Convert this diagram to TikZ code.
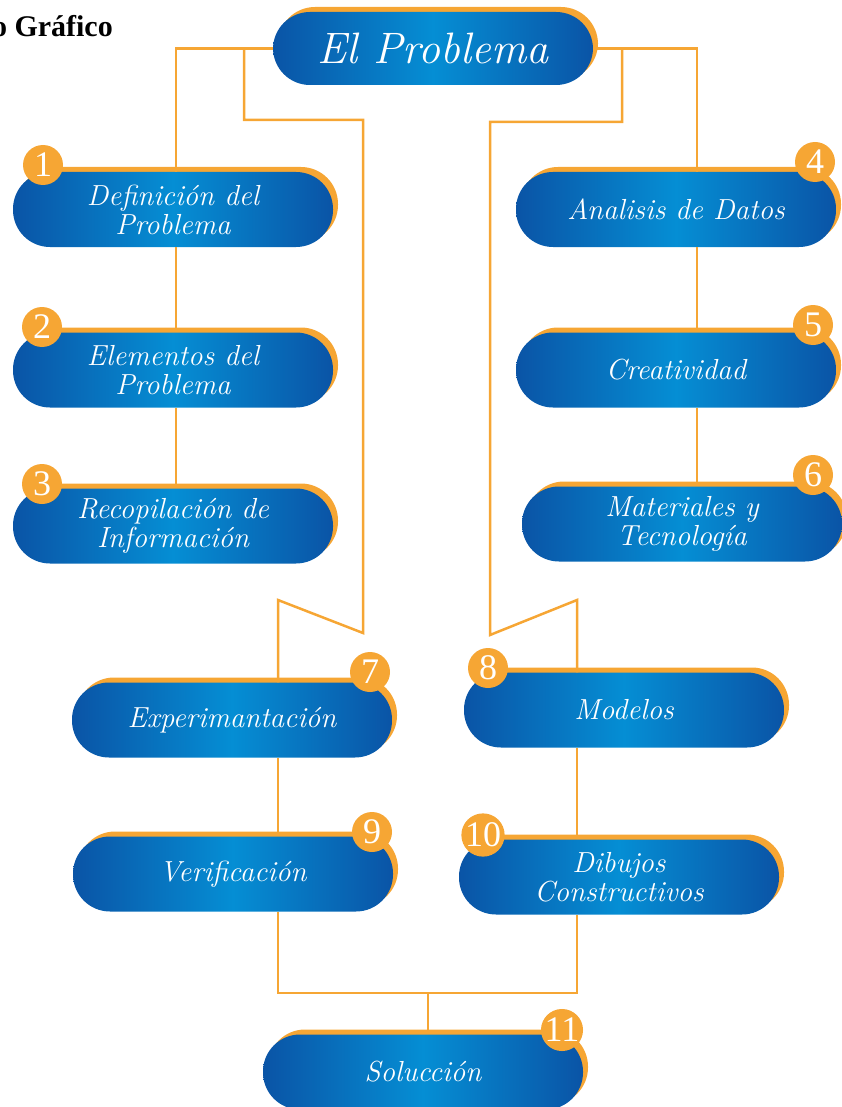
\documentclass[tikz,border=0pt]{standalone}
\usepackage{fontspec}
\newfontfamily\numfont{Liberation Serif}
\usetikzlibrary{shadows}
\definecolor{ocre}{RGB}{246,166,52}
\definecolor{azulosc}{RGB}{10,84,166}
\definecolor{azulcla}{RGB}{5,142,212}
\tikzset{
  pill/.style={rectangle, rounded corners=37pt, minimum width=320pt, minimum height=75pt,
    left color=azulosc, right color=azulosc, middle color=azulcla,
    general shadow={fill=ocre, shadow xshift=5pt, shadow yshift=5pt},
    text=white, align=center, inner sep=0pt, font=\fontsize{29}{29}\selectfont\itshape},
  badge/.style={circle, fill=ocre, minimum size=40pt, inner sep=0pt, text=white,
    font=\numfont\fontsize{36}{36}\selectfont},
  conn/.style={ocre, line width=2.5pt}
}
\begin{document}
\begin{tikzpicture}[x=1pt,y=-1pt]
\useasboundingbox (0,0) rectangle (842,1107);
\node [anchor=base east, inner sep=0pt, font=\numfont\bfseries\fontsize{30}{30}\selectfont] (tit) at (113,37) {o Gráfico};
% columnas de las lineas
\coordinate (lc) at (176,0);
\coordinate (rc) at (697,0);
\coordinate (bl) at (278,0);
\coordinate (br) at (577,0);
\coordinate (lk) at (244,0);
\coordinate (rk) at (622,0);
\coordinate (jn) at (428,993);
% cajas
\node [pill, minimum height=73pt, font=\fontsize{44}{44}\selectfont\itshape] (prob) at (433,48.5) {El Problema};
\node [pill] (p1) at (173,209.5) {Definición del\\Problema};
\node [pill] (p2) at (173,370) {Elementos del\\Problema};
\node [pill] (p3) at (173,526) {Recopilación de\\Información};
\node [pill] (p4) at (676,209.5) {Analisis de Datos};
\node [pill] (p5) at (676,370) {Creatividad};
\node [pill] (p6) at (682,524) {Materiales y\\Tecnología};
\node [pill] (p7) at (232,720) {Experimantación};
\node [pill] (p8) at (624,710) {Modelos};
\node [pill] (p9) at (233,874) {Verificación};
\node [pill] (p10) at (619,877) {Dibujos\\Constructivos};
\node [pill] (p11) at (423,1072) {Solucción};
% lineas
\draw [conn] (prob.west) -| (p1.north -| lc);
\draw [conn] (p1.south -| lc) -- (p2.north -| lc);
\draw [conn] (p2.south -| lc) -- (p3.north -| lc);
\draw [conn] (prob.east) -| (p4.north -| rc);
\draw [conn] (p4.south -| rc) -- (p5.north -| rc);
\draw [conn] (p5.south -| rc) -- (p6.north -| rc);
\draw [conn] (prob.west -| lk) |- (363,120) -- (363,633) -- (278,600) -- (p7.north -| bl);
\draw [conn] (prob.east -| rk) |- (490,122) -- (490,635) -- (577,600) -- (p8.north -| br);
\draw [conn] (p7.south -| bl) -- (p9.north -| bl);
\draw [conn] (p8.south -| br) -- (p10.north -| br);
\draw [conn] (p9.south -| bl) -- (bl |- jn) -- (br |- jn) -- (p10.south -| br);
\draw [conn] (jn) -- (p11.north -| jn);
% numeros
\node [badge] (n1) at (43,165) {1};
\node [badge] (n2) at (42,327) {2};
\node [badge] (n3) at (42,484) {3};
\node [badge] (n4) at (815,162) {4};
\node [badge] (n5) at (813,325) {5};
\node [badge] (n6) at (813,475) {6};
\node [badge] (n7) at (370,672) {7};
\node [badge] (n8) at (488,668) {8};
\node [badge] (n9) at (372,832) {9};
\node [badge] (n10) at (483,835) {10};
\node [badge] (n11) at (562,1030) {11};
\end{tikzpicture}
\end{document}
